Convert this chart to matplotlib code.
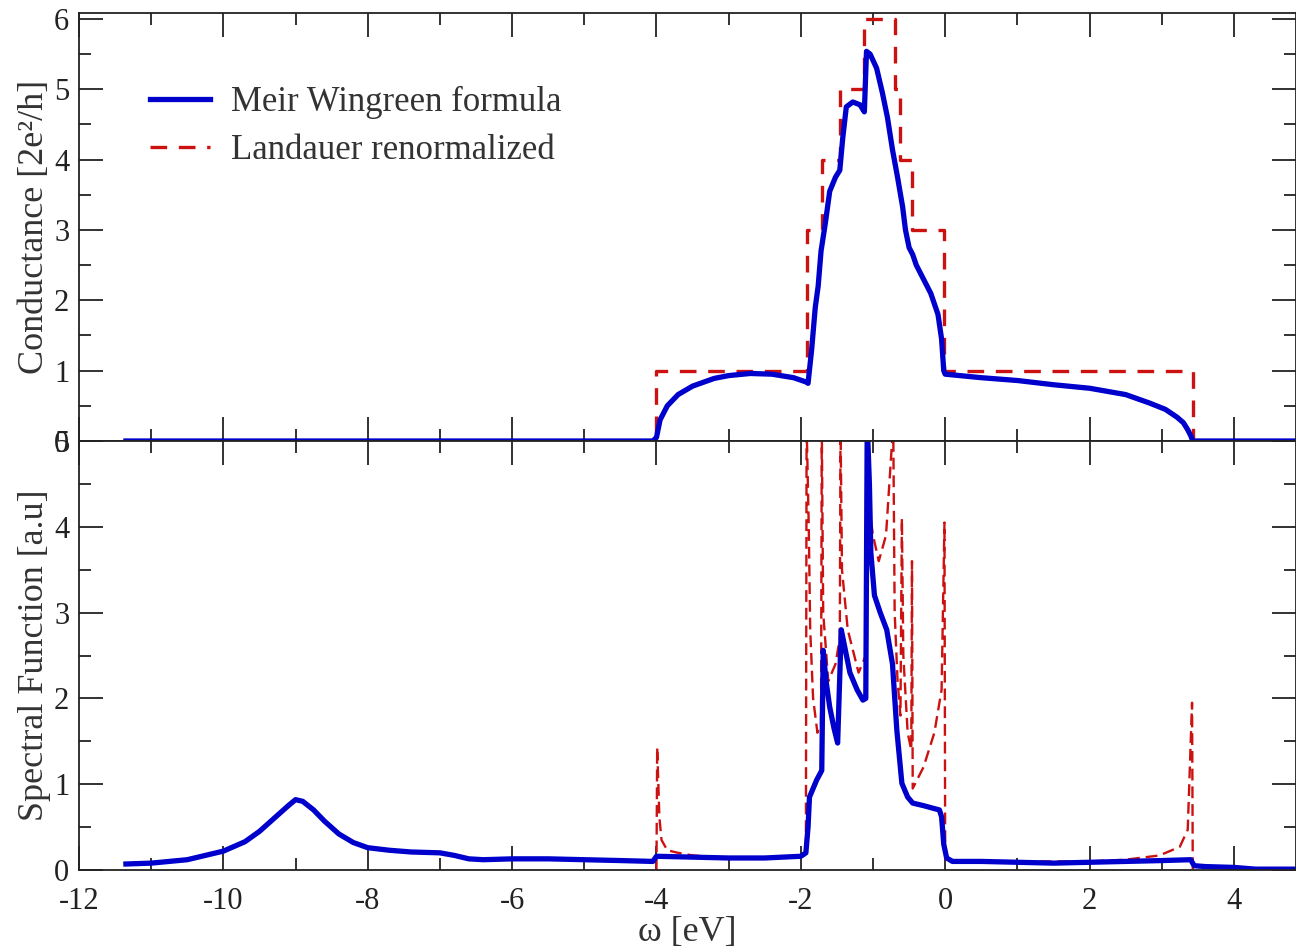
import matplotlib.pyplot as plt
from matplotlib.ticker import MultipleLocator

plt.rcParams['font.family'] = ['Liberation Serif', 'DejaVu Serif']
plt.rcParams['axes.unicode_minus'] = False

# Conductance, Meir Wingreen (blue)
mw_x = [-11.35, -4.05, -4.0, -3.95, -3.85, -3.7, -3.5, -3.2, -3.0, -2.7, -2.4, -2.1, -1.93,
        -1.9, -1.85, -1.8, -1.76, -1.72, -1.66, -1.6, -1.52, -1.46, -1.42, -1.37, -1.28,
        -1.18, -1.12, -1.09, -1.04, -0.95, -0.87, -0.8, -0.73, -0.66, -0.59, -0.55, -0.5,
        -0.45, -0.4, -0.3, -0.2, -0.1, -0.05, -0.02, 0.0, 0.5, 1.0, 1.5, 2.0, 2.5, 2.83,
        3.05, 3.21, 3.3, 3.36, 3.4, 3.43, 4.86]
mw_g = [0.0, 0.0, 0.05, 0.3, 0.5, 0.66, 0.78, 0.89, 0.93, 0.96, 0.95, 0.9, 0.84,
        0.82, 1.3, 1.9, 2.2, 2.7, 3.1, 3.55, 3.75, 3.85, 4.3, 4.75, 4.82,
        4.78, 4.68, 5.54, 5.5, 5.3, 4.95, 4.6, 4.14, 3.75, 3.33, 3.0, 2.75,
        2.65, 2.5, 2.3, 2.1, 1.8, 1.45, 1.0, 0.95, 0.9, 0.86, 0.8, 0.75, 0.66, 0.54,
        0.45, 0.34, 0.26, 0.16, 0.08, 0.0, 0.0]

# Conductance, Landauer renormalized (red dashed steps)
la_x = [-11.35, -4.0, -4.0, -1.91, -1.91, -1.71, -1.71, -1.46, -1.46, -1.12, -1.12,
        -0.7, -0.7, -0.62, -0.62, -0.46, -0.46, -0.02, -0.02, 3.43, 3.43, 4.86]
la_g = [0, 0, 1, 1, 3, 3, 4, 4, 5, 5, 6,
        6, 5, 5, 4, 4, 3, 3, 1, 1, 0, 0]

# Spectral function, Meir Wingreen (blue)
sw_x = [-11.35, -11.0, -10.5, -10.0, -9.7, -9.5, -9.3, -9.1, -9.0, -8.9, -8.75, -8.6, -8.4,
        -8.2, -8.0, -7.7, -7.4, -7.0, -6.8, -6.6, -6.4, -6.0, -5.5, -5.0, -4.5, -4.05, -4.0,
        -3.5, -3.0, -2.5, -2.0, -1.93, -1.9, -1.88, -1.78, -1.71, -1.69, -1.65, -1.6,
        -1.54, -1.49, -1.44, -1.38, -1.32, -1.22, -1.14, -1.1, -1.08, -1.05, -1.03, -0.98,
        -0.9, -0.81, -0.73, -0.67, -0.6, -0.52, -0.45, -0.3, -0.17, -0.08, -0.05, -0.02,
        0.02, 0.1, 0.5, 1.0, 1.5, 2.0, 2.5, 3.0, 3.4, 3.45, 3.6, 4.0, 4.3, 4.86]
sw_a = [0.07, 0.08, 0.12, 0.22, 0.33, 0.45, 0.6, 0.75, 0.82, 0.8, 0.7, 0.57, 0.42,
        0.32, 0.26, 0.23, 0.21, 0.2, 0.17, 0.13, 0.12, 0.13, 0.13, 0.12, 0.11, 0.1, 0.16,
        0.15, 0.14, 0.14, 0.16, 0.2, 0.5, 0.85, 1.05, 1.16, 2.56, 2.2, 1.9,
        1.65, 1.48, 2.8, 2.55, 2.3, 2.1, 1.98, 2.0, 5.2, 4.5, 3.7, 3.2,
        3.0, 2.8, 2.4, 1.63, 1.01, 0.85, 0.78, 0.75, 0.72, 0.7, 0.62, 0.3,
        0.14, 0.1, 0.1, 0.09, 0.08, 0.09, 0.1, 0.11, 0.12, 0.05, 0.04, 0.03, 0.01, 0.01]

# Spectral function, Landauer (red dashed, with band-edge spikes)
sl_x = [-4.0, -3.99, -3.97, -3.96, -3.93, -3.85, -3.7, -3.5, -3.0, -2.5, -2.0, -1.93,
        -1.92, -1.89, -1.87, -1.83, -1.77, -1.72, -1.71, -1.69, -1.62, -1.52, -1.46, -1.45,
        -1.43, -1.35, -1.2, -1.1, -1.08, -1.05, -1.0, -0.92, -0.82, -0.72, -0.7, -0.66,
        -0.62, -0.6, -0.58, -0.52, -0.47, -0.46, -0.45, -0.3, -0.15, -0.05, -0.01, 0.0,
        0.5, 1.0, 2.0, 2.5, 2.97, 3.25, 3.36, 3.42, 3.43]
sl_a = [0.0, 1.43, 0.9, 0.62, 0.35, 0.23, 0.2, 0.17, 0.14, 0.14, 0.15, 0.18,
        5.2, 4.0, 2.8, 2.0, 1.6, 1.7, 5.2, 3.0, 2.2, 2.4, 2.7, 5.2,
        3.5, 2.8, 2.3, 2.5, 5.2, 4.2, 3.9, 3.6, 3.9, 5.2, 3.0, 2.2,
        1.8, 4.1, 2.5, 1.6, 1.4, 3.6, 0.95, 1.2, 1.6, 2.1, 4.05, 0.12,
        0.1, 0.1, 0.1, 0.12, 0.17, 0.27, 0.47, 1.95, 0.0]

xmin, xmax = -12, 4.86
blue = '#0000cc'
red = '#cc1111'

fig = plt.figure(figsize=(12.96, 9.49), dpi=100)
ax1 = fig.add_axes([79/1296, 1 - 441/949, 1 - 79/1296, (441 - 13)/949])
ax2 = fig.add_axes([79/1296, 1 - 870/949, 1 - 79/1296, (870 - 441)/949])

ax1.plot(la_x, la_g, '--', color=red, lw=2.4, dashes=(5, 3.5), label='Landauer renormalized')
ax1.plot(mw_x, mw_g, '-', color=blue, lw=3.8, label='Meir Wingreen formula')
ax2.plot(sl_x, sl_a, '--', color=red, lw=1.7, dashes=(5, 2.5))
ax2.plot(sw_x, sw_a, '-', color=blue, lw=3.8)

ax1.set_xlim(xmin, xmax)
ax2.set_xlim(xmin, xmax)
ax1.set_ylim(0, 6.085)
ax2.set_ylim(0, 5)

for ax in (ax1, ax2):
    ax.xaxis.set_major_locator(MultipleLocator(2))
    ax.xaxis.set_minor_locator(MultipleLocator(1))
    ax.yaxis.set_major_locator(MultipleLocator(1))
    ax.yaxis.set_minor_locator(MultipleLocator(0.5))
    ax.tick_params(which='both', direction='in', top=True, right=True, width=1.3,
                   labelsize=22, colors='#222222')
    ax.tick_params(which='major', length=17)
    ax.tick_params(which='minor', length=8.5)
    ax.tick_params(axis='y', pad=7)
    ax.tick_params(axis='x', pad=12)
    for s in ax.spines.values():
        s.set_linewidth(1.3)
        s.set_color('#222222')

ax1.tick_params(labelbottom=False)
ax1.set_ylabel('Conductance [2e²/h]', fontsize=26, labelpad=2, color='#333333')
ax2.set_ylabel('Spectral Function [a.u]', fontsize=26, labelpad=2, color='#333333')
ax2.set_xlabel('ω [eV]', fontsize=26, labelpad=0, color='#333333')

h, l = ax1.get_legend_handles_labels()
leg = ax1.legend(h[::-1], l[::-1], loc='upper left', bbox_to_anchor=(0.058, 0.83),
                 frameon=False, fontsize=25, handlelength=1.75, handletextpad=0.6,
                 labelspacing=0.45, borderpad=0, borderaxespad=0)
for t in leg.get_texts():
    t.set_color('#333333')

fig.savefig('out.png', dpi=100)
